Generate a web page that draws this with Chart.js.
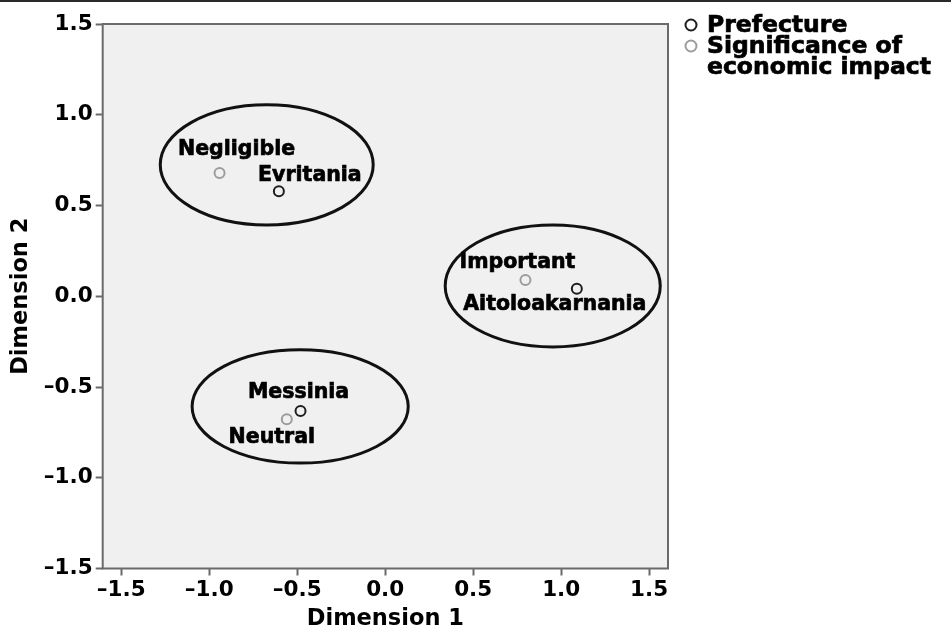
<!DOCTYPE html>
<html>
<head>
<meta charset="utf-8">
<script src="https://cdn.jsdelivr.net/npm/chart.js@4/dist/chart.umd.min.js"></script>
<style>
  html, body { margin: 0; padding: 0; background: #fff; }
  #wrap { width: 951px; height: 630px; }
</style>
</head>
<body>
<div id="wrap"><canvas id="mapPlot" width="951" height="630"></canvas></div>
<script>
// Prefecture points (category quantifications)
const prefectureNames = ['Evritania', 'Aitoloakarnania', 'Messinia'];
const prefectureDim1 = [-0.604, 1.089, -0.481];
const prefectureDim2 = [0.579, 0.041, -0.632];

// Significance of economic impact points
const impactNames = ['Negligible', 'Important', 'Neutral'];
const impactDim1 = [-0.941, 0.797, -0.559];
const impactDim2 = [0.679, 0.089, -0.678];

// Groups circled on the map (centre and half-axes in dimension units)
const groupCentreDim1 = [-0.673, 0.952, -0.483];
const groupCentreDim2 = [0.724, 0.057, -0.607];
const groupHalfDim1 = [0.605, 0.611, 0.614];
const groupHalfDim2 = [0.331, 0.336, 0.312];

const seriesNames = ['Prefecture', 'Significance of economic impact'];
const xTickValues = [-1.5, -1.0, -0.5, 0.0, 0.5, 1.0, 1.5];
const yTickValues = [-1.5, -1.0, -0.5, 0.0, 0.5, 1.0, 1.5];

// label offsets in pixels from each point (style only)
const prefectureLabelShift = [[31, -15], [-22, 16], [-2, -18]];
const impactLabelShift = [[17, -23], [-8, -17], [-15, 18]];

const seriesColors = ['#1e1e1e', '#9c9c9c'];
const boldFont = 'bold 20.5px "DejaVu Sans"';

function fmt(v) {
    const s = Math.abs(v).toFixed(1);
    return v < -1e-9 ? '\u2013' + s : s;
}

// heavier text: fill plus a thin outline
function heavyText(c, t, x, y) {
    c.fillText(t, x, y);
    c.strokeText(t, x, y);
}

const mapPlugin = {
    id: 'mapPlugin',
    beforeDraw(chart) {
        const c = chart.ctx;
        const a = chart.chartArea;
        c.save();
        c.fillStyle = '#ffffff';
        c.fillRect(0, 0, chart.width, chart.height);
        c.fillStyle = '#f0f0f0';
        c.fillRect(a.left, a.top, a.right - a.left, a.bottom - a.top);
        // thin rule along the top of the figure
        c.fillStyle = '#2a2a2a';
        c.fillRect(0, 0, chart.width, 2);
        c.restore();
    },
    afterDatasetsDraw(chart) {
        const c = chart.ctx;
        const xs = chart.scales.x;
        const ys = chart.scales.y;
        c.save();

        // group ellipses
        c.strokeStyle = '#111';
        c.lineWidth = 3;
        for (let i = 0; i < groupCentreDim1.length; i++) {
            const cx = xs.getPixelForValue(groupCentreDim1[i]);
            const cy = ys.getPixelForValue(groupCentreDim2[i]);
            const rx = Math.abs(xs.getPixelForValue(groupCentreDim1[i] + groupHalfDim1[i]) - cx);
            const ry = Math.abs(ys.getPixelForValue(groupCentreDim2[i] + groupHalfDim2[i]) - cy);
            c.beginPath();
            c.ellipse(cx, cy, rx, ry, 0, 0, Math.PI * 2);
            c.stroke();
        }

        // point labels
        c.fillStyle = '#000';
        c.strokeStyle = '#000';
        c.lineWidth = 0.7;
        c.font = boldFont;
        c.textAlign = 'center';
        c.textBaseline = 'middle';
        const drawLabels = (names, d1, d2, shift) => {
            names.forEach((n, i) => {
                const px = xs.getPixelForValue(d1[i]) + shift[i][0];
                const py = ys.getPixelForValue(d2[i]) + shift[i][1];
                heavyText(c, n, px, py);
            });
        };
        drawLabels(prefectureNames, prefectureDim1, prefectureDim2, prefectureLabelShift);
        drawLabels(impactNames, impactDim1, impactDim2, impactLabelShift);

        // frame
        const a = chart.chartArea;
        c.strokeStyle = '#6a6a6a';
        c.lineWidth = 2;
        c.strokeRect(a.left, a.top, a.right - a.left, a.bottom - a.top);
        c.restore();
    },
    afterDraw(chart) {
        // legend to the right of the plot
        const c = chart.ctx;
        const a = chart.chartArea;
        const x0 = a.right + 23;
        let y = a.top + 1;
        c.save();
        c.font = 'bold 23.5px "DejaVu Sans"';
        c.textBaseline = 'middle';
        c.textAlign = 'left';
        chart.data.datasets.forEach((ds, i) => {
            c.beginPath();
            c.arc(x0, y, 5.5, 0, Math.PI * 2);
            c.lineWidth = 2;
            c.strokeStyle = ds.borderColor;
            c.stroke();
            // wrap long labels
            const words = ds.label.split(' ');
            const lines = [];
            let line = '';
            words.forEach(w => {
                const t = line ? line + ' ' + w : w;
                if (c.measureText(t).width > 238 && line) {
                    lines.push(line);
                    line = w;
                } else {
                    line = t;
                }
            });
            lines.push(line);
            c.fillStyle = '#000';
            c.strokeStyle = '#000';
            c.lineWidth = 0.7;
            lines.forEach(l => {
                heavyText(c, l, x0 + 16, y + 1);
                y += 21;
            });
        });
        c.restore();
    }
};

const tickFont = { family: 'DejaVu Sans', size: 21.5, weight: 'bold' };
const titleFont = { family: 'DejaVu Sans', size: 22.5, weight: 'bold', lineHeight: 1 };

const ctx = document.getElementById('mapPlot').getContext('2d');
new Chart(ctx, {
    type: 'scatter',
    data: {
        datasets: [
            {
                label: seriesNames[0],
                data: prefectureDim1.map((v, i) => ({ x: v, y: prefectureDim2[i] })),
                borderColor: seriesColors[0],
                backgroundColor: 'rgba(0,0,0,0)',
                borderWidth: 2,
                pointRadius: 5,
                pointHoverRadius: 5
            },
            {
                label: seriesNames[1],
                data: impactDim1.map((v, i) => ({ x: v, y: impactDim2[i] })),
                borderColor: seriesColors[1],
                backgroundColor: 'rgba(0,0,0,0)',
                borderWidth: 2,
                pointRadius: 5,
                pointHoverRadius: 5
            }
        ]
    },
    options: {
        responsive: false,
        animation: false,
        events: [],
        layout: {
            padding: { left: 10, right: 283, top: 24, bottom: 0 }
        },
        scales: {
            x: {
                type: 'linear',
                min: -1.605,
                max: 1.607,
                afterBuildTicks: s => { s.ticks = xTickValues.map(v => ({ value: v })); },
                afterFit: s => { s.height = 61.5; },
                grid: {
                    drawOnChartArea: false,
                    drawTicks: true,
                    tickLength: 7,
                    tickWidth: 2,
                    tickColor: '#6a6a6a'
                },
                border: { display: false },
                ticks: {
                    color: '#000',
                    padding: 2,
                    maxRotation: 0,
                    autoSkip: false,
                    font: tickFont,
                    callback: v => fmt(v)
                },
                title: {
                    display: true,
                    text: 'Dimension 1',
                    color: '#000',
                    padding: { top: 0, bottom: 0 },
                    font: titleFont
                }
            },
            y: {
                type: 'linear',
                min: -1.5,
                max: 1.5,
                afterBuildTicks: s => { s.ticks = yTickValues.map(v => ({ value: v })); },
                afterFit: s => { s.width = 92.7; },
                grid: {
                    drawOnChartArea: false,
                    drawTicks: true,
                    tickLength: 7,
                    tickWidth: 2,
                    tickColor: '#6a6a6a'
                },
                border: { display: false },
                ticks: {
                    color: '#000',
                    padding: 3,
                    autoSkip: false,
                    font: tickFont,
                    callback: v => fmt(v)
                },
                title: {
                    display: true,
                    text: 'Dimension 2',
                    color: '#000',
                    padding: { top: 0, bottom: 0 },
                    font: titleFont
                }
            }
        },
        plugins: {
            legend: { display: false },
            tooltip: { enabled: false }
        }
    },
    plugins: [mapPlugin]
});
</script>
</body>
</html>
